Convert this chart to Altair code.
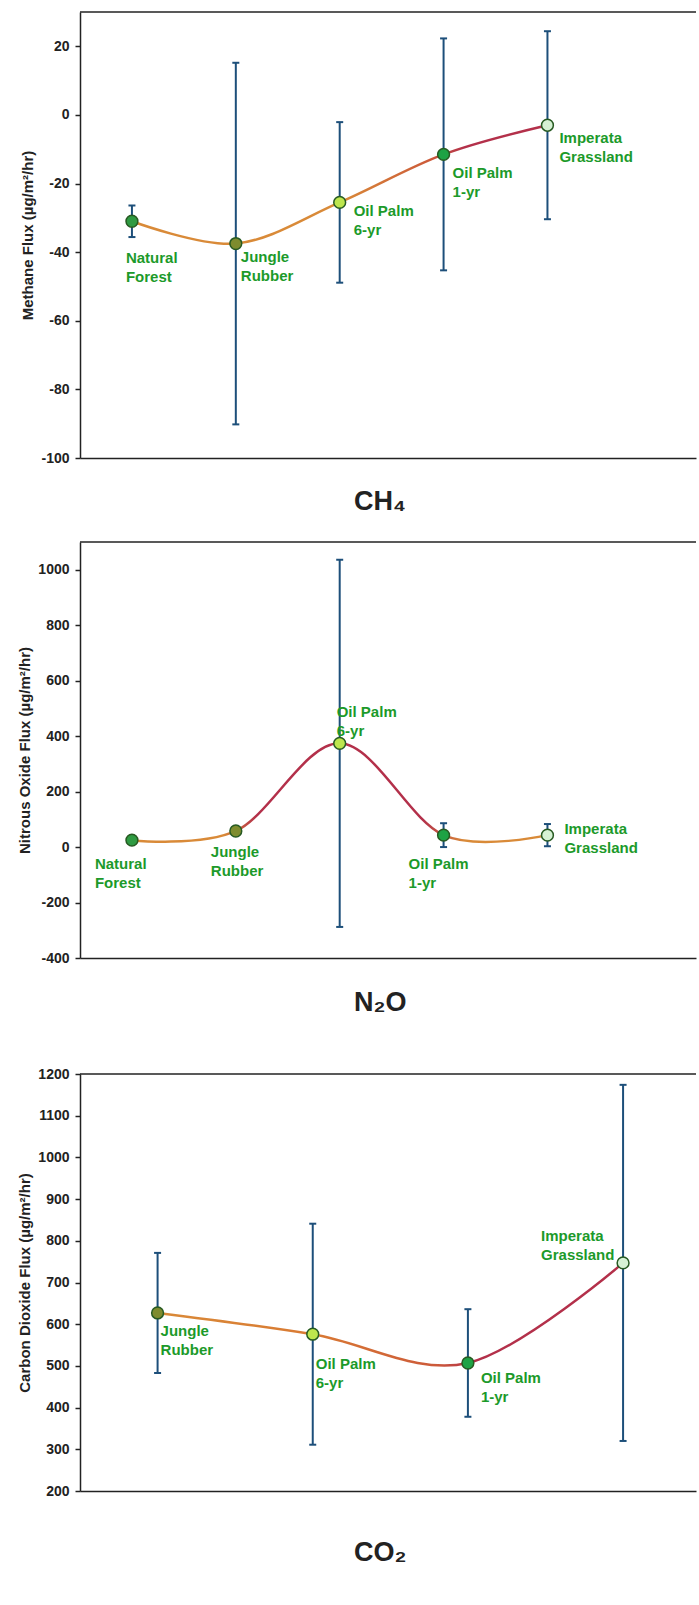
import altair as alt
import pandas as pd

# ---------------- data ----------------
sites5 = ["Natural Forest", "Jungle Rubber", "Oil Palm 6-yr", "Oil Palm 1-yr", "Imperata Grassland"]
labels5 = ["Natural\nForest", "Jungle\nRubber", "Oil Palm\n6-yr", "Oil Palm\n1-yr", "Imperata\nGrassland"]

ch4_flux = [-31.0, -37.5, -25.5, -11.5, -3.0]
ch4_err = [4.6, 52.7, 23.4, 33.8, 27.4]
ch4_ticks = [-100, -80, -60, -40, -20, 0, 20]

n2o_flux = [25.0, 58.0, 374.0, 43.0, 43.0]
n2o_err = [4.0, 12.0, 662.0, 43.0, 40.0]
n2o_ticks = [-400, -200, 0, 200, 400, 600, 800, 1000]

co2_sites = ["Jungle Rubber", "Oil Palm 6-yr", "Oil Palm 1-yr", "Imperata Grassland"]
co2_labels = ["Jungle\nRubber", "Oil Palm\n6-yr", "Oil Palm\n1-yr", "Imperata\nGrassland"]
co2_flux = [627.0, 576.0, 507.0, 747.0]
co2_err = [144.0, 265.0, 129.0, 427.0]
co2_ticks = [200, 300, 400, 500, 600, 700, 800, 900, 1000, 1100, 1200]

# ---------------- styles ----------------
FONT = "Liberation Sans"
INK = "#222222"
BAR = "#1d4f7a"
LABEL_GREEN = "#1c9a2a"
FILL_DOMAIN = sites5
FILL_RANGE = ["#2f9a42", "#7e8c2e", "#bde64e", "#1ea244", "#d6f1d4"]
ORANGE = "#d98a38"
RED_ORANGE = "#cc5a3a"
CRIMSON = "#b3304a"

W = 616


def panel(sites, labels, flux, err, ticks, ydomain, xdomain, height, ytitle,
          gas, gas_offset, stops, offsets):
    df = pd.DataFrame({
        "i": list(range(len(sites))),
        "site": sites,
        "label": labels,
        "flux": flux,
        "lo": [f - e for f, e in zip(flux, err)],
        "hi": [f + e for f, e in zip(flux, err)],
    })
    xs = alt.Scale(domain=xdomain, nice=False, zero=False)
    ys = alt.Scale(domain=ydomain, nice=False, zero=False)
    xax = alt.Axis(title=None, labels=False, ticks=False, grid=False,
                   domainColor=INK, domainWidth=1.5)
    yax = alt.Axis(values=ticks, title=ytitle, grid=False, tickSize=5,
                   tickWidth=1.5, tickColor=INK, domainColor=INK,
                   domainWidth=1.5, labelFont=FONT, labelFontSize=14,
                   labelFontWeight="bold", labelColor=INK, labelPadding=6,
                   labelExpr="'' + datum.value",
                   titleFont=FONT, titleFontSize=15, titleFontWeight="bold",
                   titleColor=INK, titlePadding=5)

    def X():
        return alt.X("i:Q", scale=xs, axis=xax)

    def Y(field):
        return alt.Y(f"{field}:Q", scale=ys, axis=yax)

    base = alt.Chart(df)
    top = alt.Chart(pd.DataFrame({"k": [0]})).mark_rule(
        color=INK, strokeWidth=1.5).encode(
        x=alt.value(0), x2=alt.value(W), y=alt.value(0))
    bars = base.mark_rule(color=BAR, strokeWidth=2).encode(
        x=X(), y=Y("lo"), y2="hi:Q")
    cap_lo = base.mark_tick(orient="horizontal", size=7, thickness=2,
                            color=BAR, opacity=1).encode(x=X(), y=Y("lo"))
    cap_hi = base.mark_tick(orient="horizontal", size=7, thickness=2,
                            color=BAR, opacity=1).encode(x=X(), y=Y("hi"))
    line = base.mark_line(
        interpolate="cardinal", strokeWidth=2.5,
        color=alt.Gradient(gradient="linear",
                           stops=[alt.GradientStop(offset=o, color=c) for o, c in stops],
                           x1=0, x2=1, y1=0, y2=0)
    ).encode(x=X(), y=Y("flux"))
    pts = base.mark_point(filled=True, shape="circle", size=140,
                          stroke="#275a22", strokeWidth=1.5, opacity=1).encode(
        x=X(), y=Y("flux"),
        fill=alt.Fill("site:N", scale=alt.Scale(domain=FILL_DOMAIN, range=FILL_RANGE),
                      legend=None))
    texts = []
    for k, s in enumerate(sites):
        dx, dy = offsets[k]
        texts.append(
            alt.Chart(df[df["site"] == s]).mark_text(
                align="left", baseline="top", dx=dx, dy=dy, lineBreak="\n",
                lineHeight=19, font=FONT, fontSize=15, fontWeight="bold",
                color=LABEL_GREEN).encode(x=X(), y=Y("flux"), text="label:N"))
    return alt.layer(top, bars, cap_lo, cap_hi, line, pts, *texts).properties(
        width=W, height=height,
        title=alt.TitleParams(text=gas, orient="bottom", anchor="start",
                              frame="group", dx=274, offset=gas_offset,
                              fontSize=27, font=FONT, fontWeight="bold",
                              color=INK))


ch4 = panel(sites5, labels5, ch4_flux, ch4_err, ch4_ticks, [-100, 30], [-0.5, 5.43], 446,
            "Methane Flux (µg/m²/hr)", "CH₄", 24,
            [(0, ORANGE), (0.5, ORANGE), (0.72, RED_ORANGE), (0.8, CRIMSON), (1, CRIMSON)],
            [(-6, 30), (5, 6), (14, 2), (9, 12), (12, 6)])

n2o = panel(sites5, labels5, n2o_flux, n2o_err, n2o_ticks, [-400, 1100], [-0.5, 5.43], 416,
            "Nitrous Oxide Flux (µg/m²/hr)", "N₂O", 25,
            [(0, ORANGE), (0.22, ORANGE), (0.3, CRIMSON), (0.7, CRIMSON), (0.8, ORANGE), (1, ORANGE)],
            [(-37, 17), (-25, 14), (-3, -38), (-35, 22), (17, -13)])

co2 = panel(co2_sites, co2_labels, co2_flux, co2_err, co2_ticks, [200, 1200], [-0.5, 3.47], 417,
            "Carbon Dioxide Flux (µg/m²/hr)", "CO₂", 42,
            [(0, ORANGE), (0.33, "#d97a33"), (0.6, RED_ORANGE), (0.68, CRIMSON), (1, CRIMSON)],
            [(3, 11), (3, 23), (13, 8), (-82, -34)])

chart = alt.vconcat(
    alt.vconcat(ch4, n2o, spacing=26),
    co2, spacing=51
).properties(
    padding={"left": 17, "top": 11, "right": 0, "bottom": 0},
    background="white"
).configure_view(stroke=None)

chart.save("out.html", embed_options={"renderer": "svg", "actions": False})
